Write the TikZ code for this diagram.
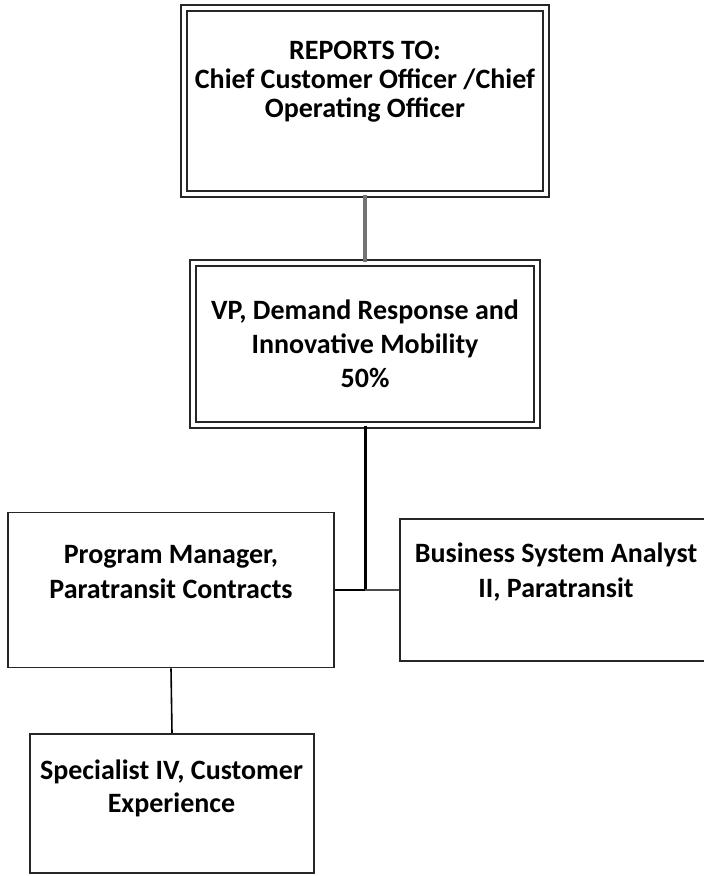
\documentclass[tikz,border=0pt]{standalone}
\usepackage{fontspec}
\setmainfont{Carlito}
\usetikzlibrary{calc}

\tikzset{
	post/.style = {draw = black!85, line width = 0.9pt, inner sep = 0pt},
	headpost/.style = {draw = black!85, double, double distance = 2pt, line width = 0.9pt, inner sep = 0pt},
	title/.style = {align = center, font = \fontsize{14}{17}\selectfont\bfseries, inner sep = 0pt},
}

\begin{document}
\begin{tikzpicture}[x = 0.5pt, y = -0.5pt]
			\useasboundingbox (0,0) rectangle (704,876);

			\begin{scope}
				\node [headpost, minimum width = 181pt, minimum height = 93pt] (rep) at (365,101) {};
				\node [headpost, minimum width = 172pt, minimum height = 81pt] (vp) at (365,344) {};
				\node [post, minimum width = 163pt, minimum height = 77.5pt] (pm) at (171,590) {};
				\node [post, minimum width = 156pt, minimum height = 71pt] (bsa) at (556,590) {};
				\node [post, minimum width = 142pt, minimum height = 69.5pt] (spec) at (172,803.5) {};
			\end{scope}

			\begin{scope}
				\node [title, font = \fontsize{14}{14.5}\selectfont\bfseries] (rep-txt) at (365,81.5) {REPORTS TO:\\Chief Customer Officer /Chief\\Operating Officer};
				\node [title] (vp-txt) at (365,344) {VP, Demand Response and\\Innovative Mobility\\50\%};
				\node [title, font = \fontsize{14}{17.5}\selectfont\bfseries] (pm-txt) at (171,572.5) {Program Manager,\\Paratransit Contracts};
				\node [title, font = \fontsize{14}{17.5}\selectfont\bfseries] (bsa-txt) at (556,572.5) {Business System Analyst\\II, Paratransit};
				\node [title, font = \fontsize{14}{16.5}\selectfont\bfseries] (spec-txt) at (171.5,788.5) {Specialist IV, Customer\\Experience};
			\end{scope}

			\begin{scope}
				\coordinate (hub) at (vp.south |- pm.east);
				\draw [black!55, line width = 1.7pt] (rep.south) -- (vp.north);
				\draw [black, line width = 1.5pt] (vp.south) -- (hub);
				\draw [black, line width = 1pt] (pm.east) -- (hub);
				\draw [black!70, line width = 1pt] (hub) -- (bsa.west);
				\draw [black, line width = 0.8pt] (pm.south) -- (spec.north);
			\end{scope}
		\end{tikzpicture}
\end{document}
